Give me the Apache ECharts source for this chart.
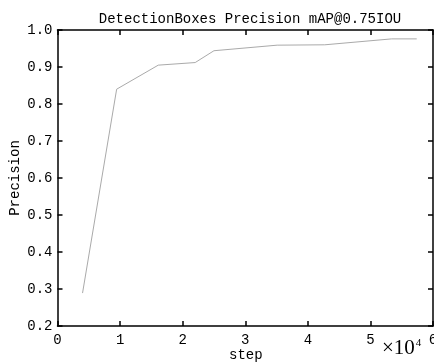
<!DOCTYPE html>
<html>
<head>
<meta charset="utf-8">
<script src="https://cdn.jsdelivr.net/npm/echarts@6/dist/echarts.min.js"></script>
<style>html,body{margin:0;padding:0;background:#fff}#c{width:434px;height:363px}</style>
</head>
<body>
<div id="c"></div>
<script>
const titleText = 'DetectionBoxes Precision mAP@0.75IOU';
const steps = [4000, 9450, 16100, 22000, 25000, 35100, 42700, 53400, 57400];
const precision = [0.289, 0.840, 0.905, 0.912, 0.944, 0.959, 0.960, 0.976, 0.976];
const xTicks = [0, 1, 2, 3, 4, 5, 6];
const yTicks = [0.2, 0.3, 0.4, 0.5, 0.6, 0.7, 0.8, 0.9, 1.0];

const FONT = '"Liberation Mono", "DejaVu Sans Mono", monospace';
const chart = echarts.init(document.getElementById('c'), null, {renderer: 'canvas'});
const axisCommon = {
  axisLine: {show: true, onZero: false, lineStyle: {color: '#000', width: 1.5}},
  axisTick: {show: true, inside: true, length: 5, lineStyle: {color: '#000', width: 1.5}},
  splitLine: {show: false}
};
chart.setOption({
  animation: false,
  backgroundColor: '#fff',
  title: {
    text: titleText, left: 245, top: 7, textAlign: 'center',
    textStyle: {fontFamily: FONT, fontSize: 14, fontWeight: 'normal', color: '#000'}
  },
  grid: {left: 57.5, right: 1, top: 30, bottom: 37, containLabel: false, outerBoundsMode: 'none'},
  xAxis: [
    Object.assign({
      type: 'value', min: 0, max: 60000, interval: 10000, position: 'bottom',
      axisLabel: {margin: 7, fontFamily: FONT, fontSize: 14, color: '#000', hideOverlap: false,
        showMaxLabel: true, showMinLabel: true,
        formatter: v => String(xTicks[Math.round(v / 10000)])},
    }, axisCommon),
    Object.assign({}, axisCommon, {
      type: 'value', min: 0, max: 60000, interval: 10000, position: 'top',
      axisLabel: {show: false}
    })
  ],
  yAxis: [
    Object.assign({
      type: 'value', min: 0.2, max: 1.0, interval: 0.1, position: 'left',
      name: 'Precision', nameLocation: 'middle', nameGap: 35, nameRotate: 90, nameMoveOverlap: false,
      nameTextStyle: {fontFamily: FONT, fontSize: 14, color: '#000'},
      axisLabel: {margin: 5, fontFamily: FONT, fontSize: 14, color: '#000', padding: [8, 0, 0, 0],
        showMaxLabel: true, showMinLabel: true,
        formatter: v => yTicks[Math.round((v - 0.2) / 0.1)].toFixed(1)},
    }, axisCommon),
    Object.assign({}, axisCommon, {
      type: 'value', min: 0.2, max: 1.0, interval: 0.1, position: 'right',
      axisLabel: {show: false}
    })
  ],
  graphic: [
    {type: 'text', left: 229, top: 348, style: {text: 'step', font: '14px ' + FONT, fill: '#000'}},
    {type: 'text', left: 382, top: 338, style: {
      text: '×10{s|4}', fill: '#000', font: '21px "Liberation Serif", serif',
      rich: {s: {fontSize: 11, fontFamily: '"Liberation Serif", serif', verticalAlign: 'top', padding: [0, 0, 10, 1]}}
    }}
  ],
  series: [{
    type: 'line', xAxisIndex: 0, yAxisIndex: 0,
    data: steps.map((s, i) => [s, precision[i]]),
    showSymbol: false, symbol: 'none',
    lineStyle: {color: '#aaaaaa', width: 1}
  }]
});
</script>
</body>
</html>
